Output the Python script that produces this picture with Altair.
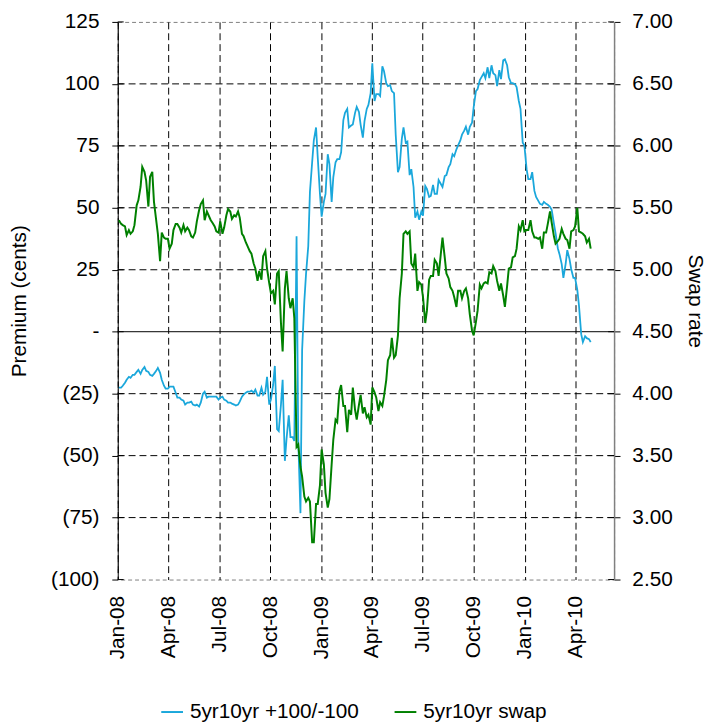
import altair as alt
import pandas as pd

# Weekly observation anchors (Thursdays); a Monday reading follows each Thursday.
thursdays = [
    "2008-01-03", "2008-01-10", "2008-01-17", "2008-01-24", "2008-01-31", "2008-02-07", "2008-02-14",
    "2008-02-21", "2008-02-28", "2008-03-06", "2008-03-13", "2008-03-20", "2008-03-27", "2008-04-03",
    "2008-04-10", "2008-04-17", "2008-04-24", "2008-05-01", "2008-05-08", "2008-05-15", "2008-05-22",
    "2008-05-29", "2008-06-05", "2008-06-12", "2008-06-19", "2008-06-26", "2008-07-03", "2008-07-10",
    "2008-07-17", "2008-07-24", "2008-07-31", "2008-08-07", "2008-08-14", "2008-08-21", "2008-08-28",
    "2008-09-04", "2008-09-11", "2008-09-18", "2008-09-25", "2008-10-02", "2008-10-09", "2008-10-16",
    "2008-10-23", "2008-10-30", "2008-11-06", "2008-11-13", "2008-11-20", "2008-11-27", "2008-12-04",
    "2008-12-11", "2008-12-18", "2008-12-25",
    "2009-01-01", "2009-01-08", "2009-01-15", "2009-01-22", "2009-01-29", "2009-02-05", "2009-02-12",
    "2009-02-19", "2009-02-26", "2009-03-05", "2009-03-12", "2009-03-19", "2009-03-26", "2009-04-02",
    "2009-04-09", "2009-04-16", "2009-04-23", "2009-04-30", "2009-05-07", "2009-05-14", "2009-05-21",
    "2009-05-28", "2009-06-04", "2009-06-11", "2009-06-18", "2009-06-25", "2009-07-02", "2009-07-09",
    "2009-07-16", "2009-07-23", "2009-07-30", "2009-08-06", "2009-08-13", "2009-08-20", "2009-08-27",
    "2009-09-03", "2009-09-10", "2009-09-17", "2009-09-24", "2009-10-01", "2009-10-08", "2009-10-15",
    "2009-10-22", "2009-10-29", "2009-11-05", "2009-11-12", "2009-11-19", "2009-11-26", "2009-12-03",
    "2009-12-10", "2009-12-17", "2009-12-24", "2009-12-31",
    "2010-01-07", "2010-01-14", "2010-01-21", "2010-01-28", "2010-02-04", "2010-02-11", "2010-02-18",
    "2010-02-25", "2010-03-04", "2010-03-11", "2010-03-18", "2010-03-25", "2010-04-01", "2010-04-08",
    "2010-04-15", "2010-04-22", "2010-04-29",
]

# 5yr10yr +100/-100 premium (cents): pairs = (Thursday, following Monday)
premium = [
    -22.6, -22.6, -21.8, -20.6, -19.4, -18.2, -18.6, -17.4, -17.4, -16.2,
    -15.4, -17.0, -15.4, -14.2, -15.8, -16.2, -17.4, -17.8, -17.0, -15.8,
    -14.6, -16.6, -19.4, -21.8, -23.0, -23.0, -22.2, -22.2, -22.2, -24.6,
    -26.6, -26.6, -27.4, -27.8, -29.4, -28.6, -28.6, -28.2, -29.4, -29.8,
    -29.4, -30.2, -28.6, -25.0, -24.2, -26.6, -26.2, -26.2, -26.2, -26.2,
    -26.2, -27.4, -26.6, -26.2, -27.4, -27.8, -28.6, -28.6, -29.0, -29.4,
    -29.8, -29.4, -28.2, -26.2, -25.4, -24.6, -24.2, -24.2, -23.8, -24.6,
    -23.4, -25.8, -25.8, -22.6, -25.4, -24.2, -18.2, -29.4, -27.4, -21.4,
    -13.8, -39.3, -40.1, -29.4, -19.4, -52.1, -43.3, -33.7, -42.5, -42.5,
    -44.1, 38.5, -43.3, -73.2, -7.4, 12.5, 23.3, 34.5, 56.4, 68.4,
    77.2, 82.4, 70.4, 55.6, 46.4, 52.4, 55.6, 71.6, 67.6, 52.4,
    62.4, 68.4, 69.6, 69.6, 72.4, 85.4, 88.3, 89.9, 82.4, 83.2,
    83.6, 88.3, 90.7, 88.7, 83.6, 78.3, 85.0, 89.9, 91.5, 96.3,
    108.3, 93.1, 95.9, 95.9, 95.1, 107.1, 105.1, 100.3, 99.1, 99.5,
    97.1, 96.3, 79.5, 64.4, 66.4, 77.9, 82.4, 76.3, 76.7, 63.2,
    65.6, 58.4, 46.0, 48.5, 45.2, 48.5, 46.8, 58.8, 57.6, 54.4,
    54.8, 59.2, 55.6, 55.6, 61.2, 59.6, 58.4, 62.8, 63.2, 66.4,
    67.6, 71.6, 70.8, 73.6, 75.2, 77.2, 79.5, 81.1, 82.7, 79.5,
    82.7, 84.3, 90.7, 97.1, 97.9, 101.5, 102.7, 104.3, 102.3, 106.7,
    102.3, 107.5, 104.3, 103.5, 99.1, 105.5, 101.9, 109.5, 109.9, 107.5,
    102.7, 100.3, 100.3, 99.9, 98.7, 93.1, 89.9, 76.3, 75.2, 65.6,
    61.6, 61.6, 64.4, 56.8, 54.4, 52.8, 51.6, 51.2, 52.4, 51.6,
    51.2, 50.4, 49.2, 43.6, 39.7, 33.7, 31.3, 27.3, 21.7, 27.3,
    32.9, 29.3, 25.3, 21.7, 21.7, 16.9, 10.5, -1.0, -4.2, -1.8,
    -2.6, -3.0, -4.2,
]

# 5yr10yr swap rate (%): pairs = (Thursday, following Monday)
swap = [
    5.40, 5.37, 5.36, 5.35, 5.28, 5.32, 5.29, 5.31, 5.36, 5.52,
    5.56, 5.67, 5.83, 5.79, 5.72, 5.51, 5.75, 5.79, 5.55, 5.40,
    5.29, 5.07, 5.30, 5.26, 5.25, 5.25, 5.17, 5.21, 5.32, 5.37,
    5.37, 5.34, 5.30, 5.36, 5.31, 5.34, 5.32, 5.27, 5.26, 5.30,
    5.39, 5.48, 5.53, 5.56, 5.40, 5.47, 5.44, 5.40, 5.38, 5.35,
    5.31, 5.30, 5.39, 5.29, 5.34, 5.44, 5.49, 5.47, 5.41, 5.44,
    5.43, 5.47, 5.42, 5.29, 5.27, 5.22, 5.19, 5.15, 5.13, 5.05,
    5.01, 4.91, 4.99, 4.92, 5.11, 5.15, 5.01, 4.89, 4.81, 4.83,
    4.72, 4.97, 4.99, 4.57, 4.34, 4.85, 4.99, 4.77, 4.69, 4.77,
    4.61, 3.57, 3.59, 3.41, 3.33, 3.17, 3.13, 3.16, 3.13, 2.80,
    2.80, 3.11, 3.11, 3.26, 3.55, 3.43, 3.20, 3.08, 3.15, 3.43,
    3.63, 3.79, 3.77, 4.02, 4.07, 3.90, 3.90, 3.69, 3.87, 3.83,
    4.05, 3.87, 3.79, 3.91, 3.99, 3.84, 3.89, 3.81, 3.83, 3.75,
    4.05, 4.01, 3.97, 3.86, 3.93, 3.90, 3.98, 4.11, 4.27, 4.31,
    4.45, 4.29, 4.31, 4.47, 4.77, 4.97, 5.29, 5.31, 5.29, 5.31,
    5.05, 5.02, 5.13, 4.83, 4.90, 4.88, 4.78, 4.57, 4.67, 4.92,
    4.95, 4.95, 5.08, 5.05, 4.95, 5.13, 5.26, 5.10, 4.97, 4.93,
    4.86, 4.83, 4.78, 4.70, 4.83, 4.83, 4.77, 4.83, 4.85, 4.77,
    4.64, 4.51, 4.47, 4.58, 4.67, 4.88, 4.85, 4.89, 4.90, 4.89,
    4.98, 4.97, 5.03, 4.99, 4.91, 4.83, 4.89, 4.79, 4.70, 4.87,
    5.01, 5.02, 5.10, 5.11, 5.17, 5.35, 5.32, 5.40, 5.31, 5.32,
    5.32, 5.40, 5.31, 5.26, 5.26, 5.25, 5.26, 5.17, 5.30, 5.30,
    5.37, 5.47, 5.38, 5.27, 5.21, 5.23, 5.25, 5.33, 5.29, 5.25,
    5.24, 5.17, 5.31, 5.32, 5.35, 5.50, 5.31, 5.30, 5.29, 5.27,
    5.22, 5.25, 5.17,
]

# Axis ticks
quarter_ticks = ["2008-01-01", "2008-04-01", "2008-07-01", "2008-10-01", "2009-01-01",
                 "2009-04-01", "2009-07-01", "2009-10-01", "2010-01-01", "2010-04-01"]
x_domain = ["2008-01-01", "2010-06-10"]
premium_ticks = [-100, -75, -50, -25, 0, 25, 50, 75, 100, 125]
premium_gridlines = [-75, -50, -25, 25, 50, 75, 100]
swap_ticks = [2.5, 3.0, 3.5, 4.0, 4.5, 5.0, 5.5, 6.0, 6.5, 7.0]

S1 = "5yr10yr +100/-100"
S2 = "5yr10yr swap"

dates = []
for i, d in enumerate(pd.to_datetime(thursdays)):
    dates.append(d)
    if i < len(thursdays) - 1:
        dates.append(d + pd.Timedelta(days=4))
assert len(dates) == len(premium) == len(swap), (len(dates), len(premium), len(swap))

df_p = pd.DataFrame({"date": dates, "value": premium, "series": S1})
df_s = pd.DataFrame({"date": dates, "value": swap, "series": S2})
df_zero = pd.DataFrame({"level": [0]})
df_grid = pd.DataFrame({"level": premium_gridlines})
df_lticks = pd.DataFrame({"level": premium_ticks})
df_rticks = pd.DataFrame({"level": swap_ticks})

FONT = "Liberation Sans"
FS = 21
W, H = 502, 564


def dt(s):
    t = pd.Timestamp(s)
    return alt.DateTime(year=t.year, month=t.month, date=t.day)


x_enc = alt.X(
    "date:T",
    scale=alt.Scale(domain=[dt(s) for s in x_domain]),
    axis=alt.Axis(
        values=[dt(s) for s in quarter_ticks],
        format="%b-%y",
        labelAngle=270,
        labelFontSize=FS,
        labelPadding=16,
        labelFlush=False,
        labelOverlap=False,
        labelBound=False,
        ticks=False,
        domain=False,
        grid=True,
        gridColor="black",
        gridDash=[7, 4],
        gridWidth=1,
        title=None,
    ),
)

color_enc = alt.Color(
    "series:N",
    scale=alt.Scale(domain=[S1, S2], range=["#1AA7DB", "#008000"]),
    legend=alt.Legend(
        title=None,
        orient="none",
        legendX=43,
        legendY=686,
        direction="horizontal",
        symbolType="stroke",
        symbolSize=484,
        symbolStrokeWidth=2,
        labelFontSize=FS,
        labelFont=FONT,
        labelColor="black",
        labelOffset=6,
        labelLimit=400,
        columnPadding=31,
    ),
)

left_scale = alt.Scale(domain=[-100, 125], nice=False, zero=False)
right_scale = alt.Scale(domain=[2.5, 7.0], nice=False, zero=False)

left_axis = alt.Axis(
    values=premium_ticks,
    labelExpr="datum.value < 0 ? '(' + abs(datum.value) + ')' : (datum.value == 0 ? '-' : datum.value)",
    title="Premium (cents)",
    titleFontSize=FS,
    titleFontWeight="normal",
    titlePadding=21,
    labelFontSize=FS,
    labelPadding=13,
    tickSize=6,
    tickColor="black",
    domainColor="black",
    grid=False,
)

right_axis = alt.Axis(
    orient="right",
    values=swap_ticks,
    format=".2f",
    title="Swap rate",
    titleFontSize=FS,
    titleFontWeight="normal",
    titlePadding=12,
    labelFontSize=FS,
    labelPadding=12,
    tickSize=6,
    tickColor="black",
    domainColor="#808080",
    domainWidth=1.5,
    grid=False,
)

grid_rules = alt.Chart(df_grid).mark_rule(color="black", strokeWidth=1, strokeDash=[7, 4]).encode(
    y=alt.Y("level:Q", scale=left_scale, axis=left_axis)
)

# inner half of the cross-shaped tick marks on both value axes
left_inner_ticks = alt.Chart(df_lticks).mark_rule(color="black", strokeWidth=1).encode(
    y=alt.Y("level:Q", scale=left_scale, axis=left_axis),
    x=alt.value(0),
    x2=alt.value(6),
)

zero_rule = alt.Chart(df_zero).mark_rule(color="black", strokeWidth=1).encode(
    y=alt.Y("level:Q", scale=left_scale, axis=left_axis)
)

blue = alt.Chart(df_p).mark_line(strokeWidth=1.8).encode(
    x=x_enc,
    y=alt.Y("value:Q", scale=left_scale, axis=left_axis),
    color=color_enc,
)

right_inner_ticks = alt.Chart(df_rticks).mark_rule(color="black", strokeWidth=1).encode(
    y=alt.Y("level:Q", scale=right_scale, axis=right_axis),
    x=alt.value(W - 6),
    x2=alt.value(W),
)

green = alt.Chart(df_s).mark_line(strokeWidth=2).encode(
    x=x_enc,
    y=alt.Y("value:Q", scale=right_scale, axis=right_axis),
    color=color_enc,
)

left = alt.layer(grid_rules, zero_rule, left_inner_ticks, blue)
right = alt.layer(right_inner_ticks, green)

chart = (
    alt.layer(left, right)
    .resolve_scale(y="independent")
    .properties(
        width=W,
        height=H,
        padding={"left": 111, "top": 10, "right": 95, "bottom": 140},
        autosize=alt.AutoSizeParams(type="none"),
    )
    .configure(font=FONT)
    .configure_view(stroke="#808080", strokeDash=[4, 3], strokeWidth=1)
    .configure_axis(labelColor="black", titleColor="black", labelFont=FONT, titleFont=FONT)
)

chart.save("out.html", embed_options={"renderer": "svg", "actions": False})
